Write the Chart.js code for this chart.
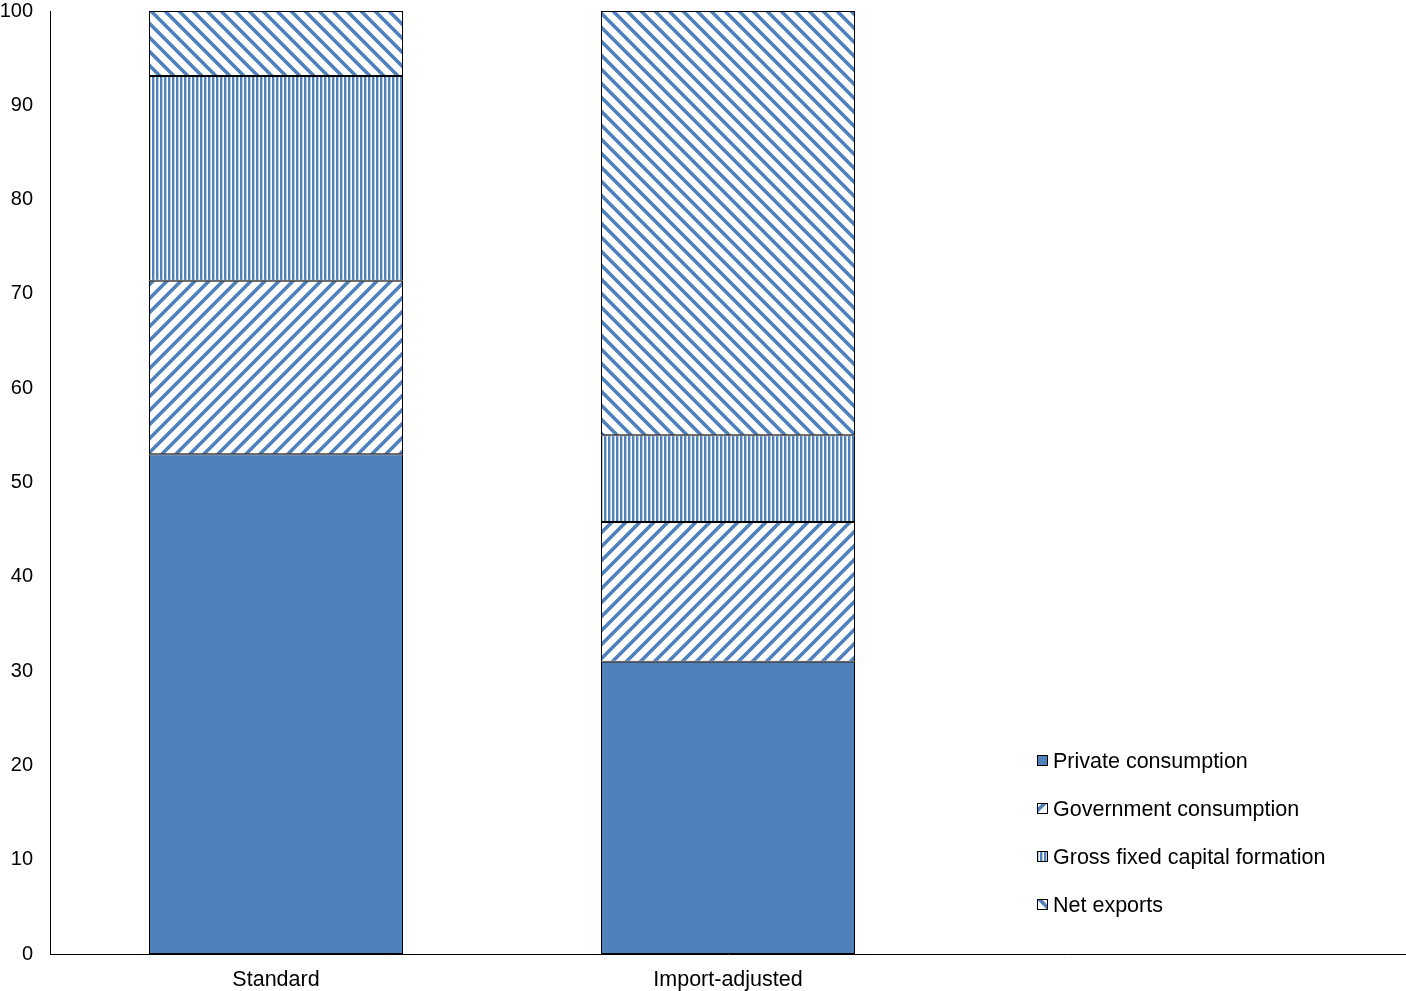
<!DOCTYPE html>
<html>
<head>
<meta charset="utf-8">
<script src="https://cdn.jsdelivr.net/npm/chart.js@4.4.1/dist/chart.umd.min.js"></script>
<style>
  html, body { margin: 0; padding: 0; background: #fff; }
  #wrap { width: 1406px; height: 991px; position: relative; }
</style>
</head>
<body>
<div id="wrap"><canvas id="chart" width="1406" height="991"></canvas></div>
<script>
const categories = ['Standard', 'Import-adjusted', ''];
const seriesNames = ['Private consumption', 'Government consumption', 'Gross fixed capital formation', 'Net exports'];
const privateConsumption = [53.0, 31.0, null];
const governmentConsumption = [18.4, 14.8, null];
const grossFixedCapital = [21.7, 9.2, null];
const netExports = [6.9, 45.0, null];
const yTicks = [0, 10, 20, 30, 40, 50, 60, 70, 80, 90, 100];

const BLUE = '#4F81BD';
const FONT = '"Liberation Sans", Arial, sans-serif';

function makePattern(kind) {
    const c = document.createElement('canvas');
    const ctx = c.getContext('2d');
    if (kind === 'vertical') {
        c.width = 4; c.height = 4;
        ctx.fillStyle = '#fff';
        ctx.fillRect(0, 0, 4, 4);
        ctx.fillStyle = BLUE;
        ctx.fillRect(0, 0, 2.4, 4);
        return ctx.createPattern(c, 'repeat');
    }
    const s = 14;
    c.width = s; c.height = s;
    ctx.fillStyle = '#fff';
    ctx.fillRect(0, 0, s, s);
    ctx.strokeStyle = BLUE;
    ctx.lineWidth = 3.6;
    ctx.beginPath();
    if (kind === 'up') {
        ctx.moveTo(-2, s + 2); ctx.lineTo(s + 2, -2);
        ctx.moveTo(-2, 2); ctx.lineTo(2, -2);
        ctx.moveTo(s - 2, s + 2); ctx.lineTo(s + 2, s - 2);
    } else {
        ctx.moveTo(-2, -2); ctx.lineTo(s + 2, s + 2);
        ctx.moveTo(s - 2, -2); ctx.lineTo(s + 2, 2);
        ctx.moveTo(-2, s - 2); ctx.lineTo(2, s + 2);
    }
    ctx.stroke();
    return ctx.createPattern(c, 'repeat');
}

const fills = [BLUE, makePattern('up'), makePattern('vertical'), makePattern('down')];
const values = [privateConsumption, governmentConsumption, grossFixedCapital, netExports];

const datasets = seriesNames.map((name, i) => ({
    label: name,
    data: values[i],
    backgroundColor: fills[i],
    borderColor: '#000',
    borderWidth: 1,
    borderSkipped: false,
    categoryPercentage: 1,
    barPercentage: 0.562
}));

// legend drawn inside the empty third slot, lower right
const boxLegend = {
    id: 'boxLegend',
    afterDraw(chart) {
        const ctx = chart.ctx;
        const x0 = 1037;
        const rows = [761, 809, 857, 905];
        ctx.save();
        ctx.font = '21.5px ' + FONT;
        ctx.textBaseline = 'middle';
        seriesNames.forEach((name, i) => {
            const y = rows[i];
            ctx.fillStyle = fills[i];
            ctx.fillRect(x0, y - 6, 11, 11);
            ctx.strokeStyle = '#000';
            ctx.lineWidth = 1;
            ctx.strokeRect(x0 + 0.5, y - 5.5, 10, 10);
            ctx.fillStyle = '#000';
            ctx.fillText(name, x0 + 16, y + 1);
        });
        ctx.restore();
    }
};

new Chart(document.getElementById('chart'), {
    type: 'bar',
    data: { labels: categories, datasets: datasets },
    options: {
        responsive: false,
        animation: false,
        devicePixelRatio: 1,
        layout: { padding: { top: 11, right: 0, left: 0, bottom: 0 } },
        plugins: { legend: { display: false }, tooltip: { enabled: false } },
        scales: {
            x: {
                stacked: true,
                grid: { display: false, drawTicks: false },
                border: { display: true, color: '#000', width: 1 },
                ticks: { color: '#000', font: { family: FONT, size: 21.5 }, padding: 13, maxRotation: 0, autoSkip: false },
                afterFit(scale) { scale.height = 37; scale.paddingLeft = 0; scale.paddingRight = 0; }
            },
            y: {
                stacked: true,
                min: 0,
                max: 100,
                grid: { display: false, drawTicks: false },
                border: { display: true, color: '#000', width: 1 },
                afterBuildTicks(scale) { scale.ticks = yTicks.map(v => ({ value: v })); },
                ticks: { color: '#000', font: { family: FONT, size: 20 }, padding: 17, autoSkip: false },
                afterFit(scale) { scale.width = 50; scale.paddingTop = 0; scale.paddingBottom = 0; }
            }
        }
    },
    plugins: [boxLegend]
});
</script>
</body>
</html>
